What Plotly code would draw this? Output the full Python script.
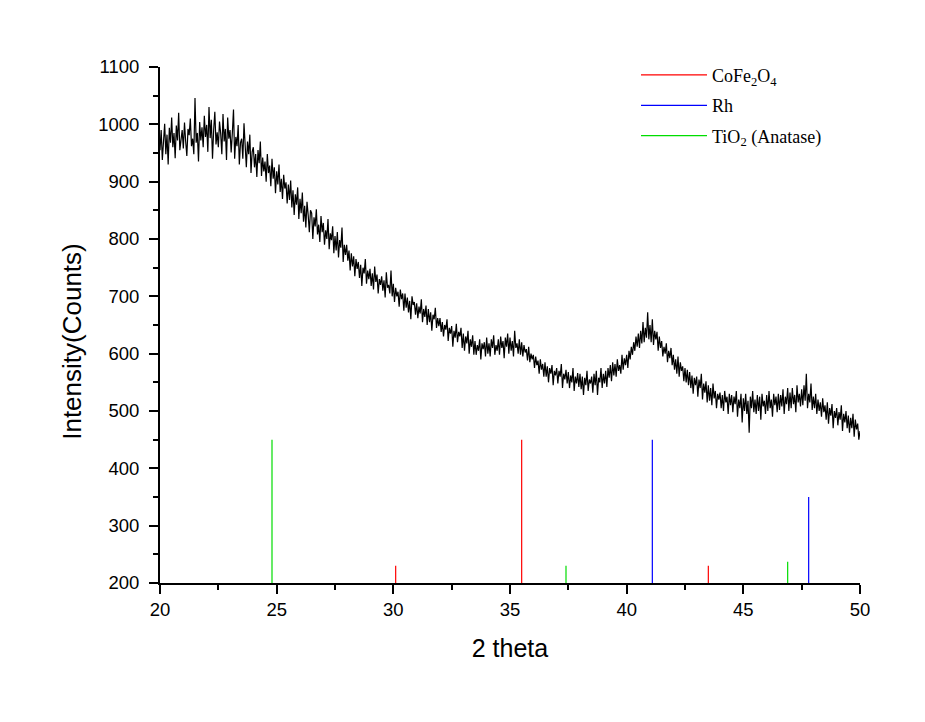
import numpy as np
import plotly.graph_objects as go

# XRD scan, 20-50 deg 2theta, step 0.05 deg
TWO_THETA_START = 20.0
TWO_THETA_STEP = 0.05
intensity = [
    955, 990, 938, 975, 1001, 948, 982, 930, 994, 968,
    1012, 960, 985, 941, 998, 972, 1020, 955, 979, 990,
    958, 1003, 970, 945, 992, 981, 1010, 962, 975, 948,
    1046, 968, 985, 935, 1004, 972, 995, 960, 1015, 978,
    999, 952, 1030, 976, 1008, 940, 990, 1022, 965, 986,
    960, 1005, 984, 948, 1018, 970, 992, 938, 1012, 975,
    990, 951, 985, 1026, 940, 978, 962, 999, 930, 968,
    975, 940, 1002, 955, 925, 970, 948, 982, 915, 952,
    960, 925, 948, 908, 955, 932, 970, 910, 942, 918,
    935, 900, 948, 915, 928, 892, 940, 905, 925, 880,
    918, 895, 930, 882, 905, 870, 912, 888, 899, 862,
    895, 868, 902, 855, 885, 842, 878, 860, 890, 835,
    870, 845, 881, 830, 858, 820, 865, 842, 812, 850,
    845, 800, 838, 822, 852, 808, 825, 795, 840, 812,
    828, 790, 815, 800, 835, 782, 810, 798, 822, 775,
    805, 780, 812, 768, 798, 785, 820, 760, 790, 772,
    790, 762, 780, 745, 775, 752, 770, 735, 765, 748,
    760, 732, 755, 718, 750, 740, 765, 722, 745, 730,
    748, 718, 740, 712, 752, 725, 738, 705, 730, 720,
    735, 710, 728, 698, 742, 715, 720, 705, 745, 700,
    722, 690, 715, 700, 708, 682, 712, 695, 705, 675,
    705, 680, 698, 672, 692, 660, 700, 685, 690, 668,
    688, 662, 682, 670, 695, 655, 678, 664, 684, 650,
    678, 655, 672, 640, 668, 660, 680, 645, 662, 648,
    662, 638, 655, 630, 650, 642, 660, 622, 645, 635,
    648, 612, 640, 628, 652, 620, 638, 630, 645, 610,
    635, 605, 630, 618, 640, 600, 625, 612, 632, 598,
    622, 598, 615, 605, 625, 590, 618, 608, 620, 595,
    628, 600, 618, 595, 625, 610, 632, 598, 615, 605,
    625, 598, 630, 610, 622, 592, 628, 612, 635, 600,
    628, 605, 622, 595, 640, 610, 618, 600, 625, 598,
    620, 595, 615, 602, 608, 588, 612, 585, 600, 590,
    598, 575, 595, 580, 588, 565, 590, 572, 582, 560,
    585, 560, 578, 550, 575, 565, 580, 545, 570, 562,
    575, 548, 570, 560, 582, 540, 565, 555, 572, 548,
    568, 540, 562, 550, 575, 535, 560, 548, 566, 542,
    565, 538, 560, 528, 558, 545, 570, 535, 555, 548,
    560, 532, 565, 545, 570, 528, 558, 550, 575, 540,
    565, 548, 570, 542, 575, 558, 580, 552, 585, 562,
    582, 560, 590, 570, 580, 565, 598, 572, 592, 580,
    598, 575, 605, 590, 612, 598, 620, 605, 630, 612,
    635, 610, 640, 618, 655, 620, 645, 628, 672, 625,
    650, 620, 660, 615, 640, 625, 638, 605, 630, 610,
    622, 595, 612, 600, 618, 585, 605, 592, 610, 580,
    598, 572, 590, 565, 595, 560, 585, 570, 578, 552,
    575, 550, 572, 545, 568, 540, 562, 530, 558, 545,
    560, 525, 555, 540, 565, 520, 548, 532, 552, 515,
    545, 518, 540, 510, 548, 522, 535, 505, 530, 520,
    532, 505, 528, 500, 535, 515, 525, 495, 530, 510,
    528, 498, 525, 512, 535, 490, 520, 505, 530, 480,
    522, 500, 530, 495, 518, 462, 525, 505, 535, 498,
    520, 495, 528, 500, 525, 485, 530, 508, 518, 495,
    528, 500, 535, 505, 520, 490, 530, 510, 525, 498,
    530, 502, 528, 508, 538, 495, 525, 512, 540, 500,
    532, 505, 540, 512, 528, 498, 545, 515, 530, 508,
    538, 510, 545, 518, 565, 505, 530, 515, 548, 502,
    525, 505, 530, 495, 520, 500, 515, 490, 522, 498,
    510, 485, 515, 478, 505, 492, 512, 470, 500, 488,
    505, 475, 498, 485, 510, 465, 495, 480, 500, 470,
    492, 462, 488, 470, 495, 455, 485, 468, 478, 450,
    465,
]
two_theta = TWO_THETA_START + TWO_THETA_STEP * np.arange(len(intensity))

# reference patterns (stick positions and heights)
BASE = 200
cofe2o4_pos = [30.1, 35.5, 43.5]
cofe2o4_int = [230, 450, 230]
rh_pos = [41.1, 47.8]
rh_int = [450, 350]
tio2_pos = [24.8, 37.4, 46.9]
tio2_int = [450, 230, 237]

refs = [
    ("CoFe<sub>2</sub>O<sub>4</sub>", cofe2o4_pos, cofe2o4_int, "#ff0000"),
    ("Rh", rh_pos, rh_int, "#0000ff"),
    ("TiO<sub>2</sub> (Anatase)", tio2_pos, tio2_int, "#00dd00"),
]


def sticks(pos, vals):
    xs, ys = [], []
    for p, v in zip(pos, vals):
        xs += [p, p, None]
        ys += [BASE, v, None]
    return xs, ys


fig = go.Figure()
fig.add_trace(go.Scatter(
    x=two_theta, y=intensity, mode="lines",
    line=dict(color="black", width=1.2), showlegend=False,
))
for i, (name, pos, vals, col) in enumerate(refs):
    xs, ys = sticks(pos, vals)
    fig.add_trace(go.Scatter(
        x=xs, y=ys, mode="lines", name=name, legendgroup=f"g{i}",
        line=dict(color=col, width=1.2),
    ))

axis_common = dict(
    showline=True, linecolor="black", linewidth=2,
    ticks="outside", ticklen=9, tickwidth=2, tickcolor="black",
    showgrid=False, zeroline=False, mirror=False,
    tickfont=dict(family="Liberation Sans, Arial", size=18.5, color="black"),
)
title_font = dict(family="Liberation Sans, Arial", size=25, color="black")

fig.update_layout(
    width=917, height=714,
    margin=dict(l=152, r=65, t=59, b=139),
    paper_bgcolor="white", plot_bgcolor="white",
    xaxis=dict(
        range=[20, 50], dtick=5, tick0=20,
        minor=dict(dtick=2.5, ticks="outside", ticklen=5, tickwidth=1.5, tickcolor="black"),
        title=dict(text="2 theta", standoff=20, font=title_font),
        **axis_common,
    ),
    yaxis=dict(
        range=[200, 1100], dtick=100, tick0=200,
        minor=dict(dtick=50, ticks="outside", ticklen=5, tickwidth=1.5, tickcolor="black"),
        ticklabelstandoff=6,
        **axis_common,
    ),
    legend=dict(
        x=0.68, y=1.02, xanchor="left", yanchor="top",
        bgcolor="rgba(0,0,0,0)", itemwidth=66, tracegroupgap=4,
        font=dict(family="Liberation Serif, Times New Roman", size=18, color="black"),
    ),
)

# y title sits a bit below the axis centre in the original
fig.add_annotation(
    text="Intensity(Counts)", textangle=-90, showarrow=False,
    xref="paper", yref="paper", x=-0.126, y=0.469,
    xanchor="center", yanchor="middle", font=dict(title_font, size=26),
)

fig.write_html("out.html")
